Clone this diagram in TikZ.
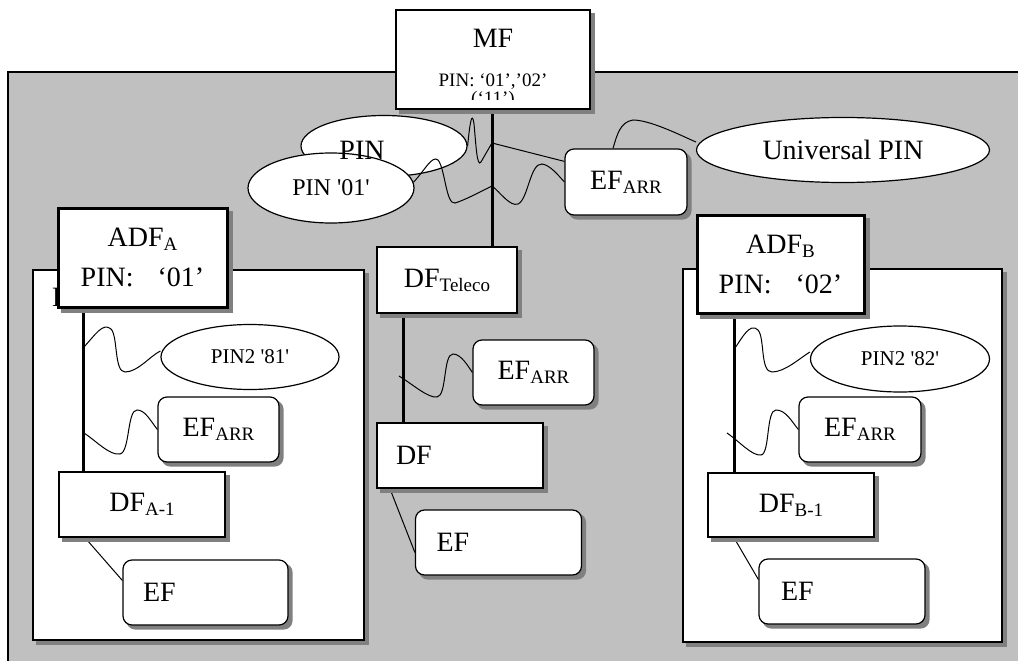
\documentclass[tikz,border=0pt]{standalone}
\usepackage{fontspec}
\setmainfont{Liberation Serif}
\newfontfamily\plainserif{Liberation Serif}
\usetikzlibrary{shapes.geometric}
\definecolor{panelgray}{RGB}{192,192,192}
\definecolor{shadowgray}{RGB}{128,128,128}
\newcommand\bigfnt{\fontsize{28}{40}\selectfont}
\newcommand\midfnt{\fontsize{19}{22}\selectfont}
\newcommand\lowtxt[1]{\raisebox{-4pt}{\fontsize{19}{19}\selectfont #1}}
\pgfdeclarelayer{ground}
\pgfdeclarelayer{back}
\pgfdeclarelayer{lines}
\pgfdeclarelayer{shade}
\pgfsetlayers{ground,back,lines,shade,main}
\tikzset{
  filebox/.style={draw, fill=white, line width=1.2pt, inner sep=0pt},
  roundbox/.style={filebox, rounded corners=9pt},
  adfbox/.style={filebox, line width=3pt, align=center},
  pinoval/.style={draw, fill=white, ellipse, line width=1.2pt, inner sep=0pt},
  trunk/.style={line width=3pt},
  link/.style={line width=1pt},
  boxshadow/.style={fill=shadowgray},
}
\begin{document}
\begin{tikzpicture}[x=1pt,y=-1pt]
\clip (0,0) rectangle (1018,661);
% grey card area
\begin{pgfonlayer}{ground}
\fill[panelgray] (8,72) rectangle (1030,680);
\draw[line width=1.5pt] (1030,72) -- (8,72) -- (8,680);
\end{pgfonlayer}
% the two application areas
\begin{pgfonlayer}{back}
\node[filebox, minimum width=331pt, minimum height=370pt] (areaA) at (198.5,455) {};
\node[anchor=base west, font=\bigfnt, inner sep=0pt] (areaAname) at (52,306) {DF};
\node[filebox, minimum width=319pt, minimum height=373pt] (areaB) at (842.5,455.5) {};
\end{pgfonlayer}
% master file, third line cut off by the box
\node[filebox, minimum width=194pt, minimum height=99pt] (mf) at (493,59.5) {};
\node[anchor=base, font=\bigfnt] (mftitle) at (493,48) {MF};
\node[anchor=base, font=\midfnt] (mfpins) at (493,87) {PIN: ‘01’,’02’};
\begin{scope}
  \clip (396,10) rectangle (590,100);
  \node[anchor=base, font=\midfnt] (mfold) at (493,105) {(‘11’)};
\end{scope}
% objects of the MF
\node[pinoval, minimum width=166pt, minimum height=61pt] (pin) at (384,146) {};
\node[pinoval, minimum width=166pt, minimum height=70pt,
  font=\plainserif\fontsize{24}{24}\selectfont] (pin01) at (331,188) {PIN '01'};
\node[font=\bigfnt] (pintxt) at (362,150) {PIN};
\node[roundbox, minimum width=122pt, minimum height=66pt, font=\bigfnt] (efarrT) at (626,182) {EF\lowtxt{ARR}};
\node[pinoval, minimum width=293pt, minimum height=65pt, font=\bigfnt] (univ) at (843,150) {Universal PIN};
% telecom DF in the middle
\node[filebox, minimum width=140pt, minimum height=66pt, font=\bigfnt] (dftel) at (447,280) {DF\lowtxt{Teleco}};
\node[roundbox, minimum width=121pt, minimum height=65pt, font=\bigfnt] (efarrM) at (533.5,372.5) {EF\lowtxt{ARR}};
\node[filebox, minimum height=65pt, font=\bigfnt, text width=128pt, align=left, inner xsep=19pt] (dfM) at (460,455.5) {DF};
\node[roundbox, minimum height=65pt, font=\bigfnt, text width=124pt, align=left, inner xsep=21pt] (efM) at (498.5,542.5) {EF};
% application A
\node[adfbox, minimum width=169pt, minimum height=99pt, font=\bigfnt] (adfA) at (142.5,257.5) {ADF\lowtxt{A}\\PIN:\hspace*{24pt}‘01’};
\node[pinoval, minimum width=178pt, minimum height=65pt,
  font=\plainserif\fontsize{21}{21}\selectfont] (pin81) at (250,357) {PIN2 '81'};
\node[roundbox, minimum width=121pt, minimum height=65pt, font=\bigfnt] (efarrA) at (218.5,429.5) {EF\lowtxt{ARR}};
\node[filebox, minimum width=166pt, minimum height=65pt, font=\bigfnt] (dfA1) at (142,504.5) {DF\lowtxt{A-1}};
\node[roundbox, minimum height=65pt, font=\bigfnt, text width=125pt, align=left, inner xsep=20pt] (efA) at (205.5,592.5) {EF};
% application B
\node[adfbox, minimum width=167pt, minimum height=98pt, font=\bigfnt] (adfB) at (780.5,264) {ADF\lowtxt{B}\\PIN:\hspace*{24pt}‘02’};
\node[pinoval, minimum width=179pt, minimum height=66pt,
  font=\plainserif\fontsize{21}{21}\selectfont] (pin82) at (900,359) {PIN2 '82'};
\node[roundbox, minimum width=122pt, minimum height=65pt, font=\bigfnt] (efarrB) at (860,429.5) {EF\lowtxt{ARR}};
\node[filebox, minimum width=166pt, minimum height=64pt, font=\bigfnt] (dfB1) at (791,505) {DF\lowtxt{B-1}};
\node[roundbox, minimum height=65pt, font=\bigfnt, text width=122pt, align=left, inner xsep=22pt] (efB) at (842,591.5) {EF};
% shadows, 4pt right and down
\begin{pgfonlayer}{ground}
\foreach \n in {areaA,areaB}
  \fill[boxshadow] ([shift={(4pt,-4pt)}]\n.north west) rectangle ([shift={(4pt,-4pt)}]\n.south east);
\end{pgfonlayer}
\begin{pgfonlayer}{shade}
\foreach \n in {mf,dftel,dfM,adfA,dfA1,adfB,dfB1}
  \fill[boxshadow] ([shift={(4pt,-4pt)}]\n.north west) rectangle ([shift={(4pt,-4pt)}]\n.south east);
\foreach \n in {efarrT,efarrM,efM,efarrA,efA,efarrB,efB}
  \fill[boxshadow, rounded corners=9pt] ([shift={(4pt,-4pt)}]\n.north west) rectangle ([shift={(4pt,-4pt)}]\n.south east);
\end{pgfonlayer}
% tree trunks and plain links, behind the boxes
\begin{pgfonlayer}{lines}
\coordinate (mfdrop) at ([xshift=-1pt]mf.south);
\draw[trunk] (mfdrop) -- (mfdrop |- dftel.north);
\coordinate (dropA) at ([xshift=27pt]adfA.south west);
\draw[trunk] (dropA) -- (dropA |- dfA1.north);
\coordinate (dropM) at ([xshift=27pt]dftel.south west);
\draw[trunk] (dropM) -- (dropM |- dfM.north);
\coordinate (dropB) at ([xshift=38.5pt]adfB.south west);
\draw[trunk] (dropB) -- (dropB |- dfB1.north);
\draw[link] ([xshift=26.5pt]dfA1.south west) -- ([yshift=12pt]efA.west);
\draw[link] ([xshift=13.5pt]dfM.south west) -- ([yshift=-10pt]efM.west);
\draw[link] ([xshift=26.5pt]dfB1.south west) -- ([yshift=12pt]efB.west);
\end{pgfonlayer}
% wavy links, on top
\coordinate (tapA1) at (84,347);
\coordinate (tapA2) at (84,433);
\coordinate (tapM) at (399,376);
\coordinate (tapB1) at (735,348);
\coordinate (tapB2) at (727,433);
\draw[link] (pin.east) .. controls (470,122) and (472,110) .. (474,124)
  .. controls (476,145) and (477,168) .. (481,162)
  .. controls (485,155) and (489,148) .. (492,143) -- ([yshift=-13pt]efarrT.north west);
\draw[link] (pin01.4) .. controls (425,170) and (432,155) .. (438,160)
  .. controls (445,168) and (446,205) .. (455,203)
  .. controls (465,200) and (480,192) .. (492,186)
  .. controls (500,192) and (510,207) .. (518,204)
  .. controls (528,200) and (530,163) .. (542,164)
  .. controls (550,165) and (558,175) .. (efarrT.west);
\draw[link] ([xshift=-13pt]efarrT.north) .. controls (617,135) and (620,122) .. (633,120)
  .. controls (650,120) and (680,135) .. ([yshift=8pt]univ.west);
\draw[link] (tapA1) .. controls (95,335) and (103,322) .. (111,329)
  .. controls (118,336) and (114,372) .. (125,372)
  .. controls (138,372) and (150,356) .. ([yshift=6pt]pin81.west);
\draw[link] (tapA2) .. controls (95,440) and (110,456) .. (120,454)
  .. controls (130,452) and (127,410) .. (137,410)
  .. controls (145,410) and (150,420) .. (efarrA.west);
\draw[link] (tapM) .. controls (415,386) and (428,398) .. (437,397)
  .. controls (447,396) and (443,354) .. (453,354)
  .. controls (461,354) and (468,366) .. (efarrM.west);
\draw[link] (tapB1) .. controls (742,338) and (750,322) .. (758,330)
  .. controls (765,338) and (760,372) .. (772,372)
  .. controls (785,372) and (800,358) .. ([yshift=7pt]pin82.west);
\draw[link] (tapB2) .. controls (740,442) and (752,456) .. (761,455)
  .. controls (770,454) and (766,410) .. (776,410)
  .. controls (786,410) and (792,422) .. (efarrB.west);
\end{tikzpicture}
\end{document}
